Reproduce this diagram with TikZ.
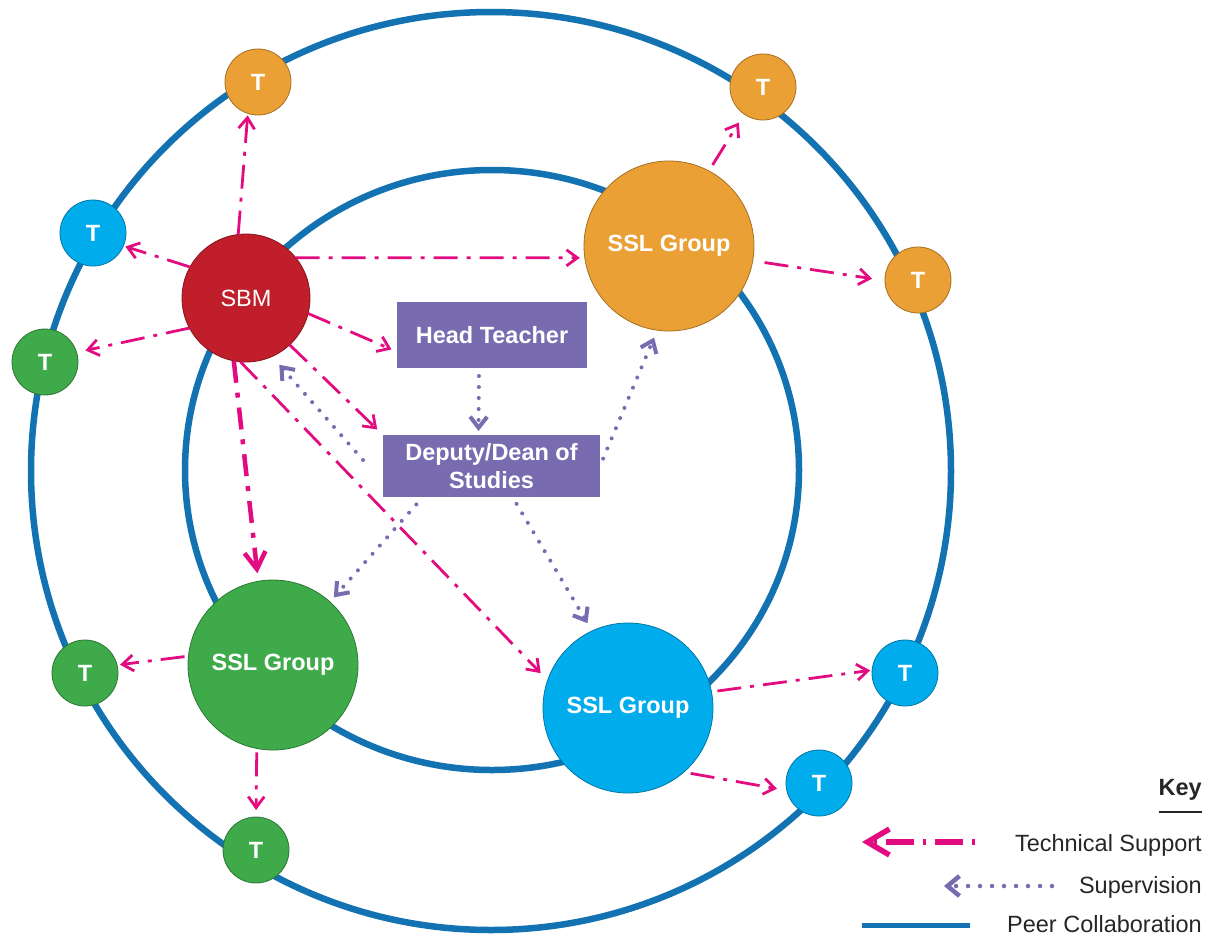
\documentclass[tikz,border=0pt]{standalone}
\usepackage{fontspec}
\setmainfont{Liberation Sans}
\usetikzlibrary{arrows.meta,backgrounds}
\definecolor{ringblue}{RGB}{18,114,178}
\definecolor{sbmred}{RGB}{192,30,42}
\definecolor{orng}{RGB}{234,160,52}
\definecolor{grn}{RGB}{62,170,74}
\definecolor{cyn}{RGB}{0,172,236}
\definecolor{purp}{RGB}{120,107,176}
\definecolor{mag}{RGB}{226,12,128}
\newcommand{\fsz}{\fontsize{23.5}{28.5}\selectfont}
\begin{document}
\begin{tikzpicture}[x=1pt,y=-1pt,
  circ/.style={circle,inner sep=0pt,outer sep=0pt,text=white,font=\fsz\bfseries,line width=0.8pt},
  tnode/.style={circ,minimum size=66pt,draw=#1!70!black,fill=#1},
  sslnode/.style={circ,minimum size=170pt,draw=#1!70!black,fill=#1},
  boxnode/.style={rectangle,fill=purp,text=white,font=\fsz\bfseries,inner sep=0pt,outer sep=0pt,align=center},
  ring/.style={draw=ringblue,line width=6.5pt},
  tech/.style={draw=mag,line width=2.8pt,dash pattern=on 24pt off 9pt on 4pt off 9pt,
     -{Straight Barb[length=11pt,width=16pt]}},
  techthick/.style={draw=mag,line width=4.5pt,dash pattern=on 22pt off 10pt on 5pt off 10pt,
     -{Straight Barb[length=17pt,width=21pt]}},
  sup/.style={draw=purp,line width=4pt,line cap=round,dash pattern=on 0pt off 11pt,
     -{Straight Barb[length=11pt,width=17pt]}},
  legtext/.style={font=\fsz,anchor=base east,inner sep=0pt,text=black!85}
]
\useasboundingbox (0,0) rectangle (1210,938);

% main nodes
\node[circ,font=\fsz,minimum size=128pt,draw=sbmred!70!black,fill=sbmred] (sbm) at (246,298) {SBM};
\node[boxnode,minimum width=190pt,minimum height=66pt] (ht) at (492,335) {Head Teacher};
\node[boxnode,minimum width=217pt,minimum height=62pt] (dep) at (491.5,466) {Deputy/Dean of\\Studies};
\node[sslnode=orng] (sslo) at (669,246) {SSL Group};
\node[sslnode=grn] (sslg) at (273,665) {SSL Group};
\node[sslnode=cyn] (sslb) at (628,708) {SSL Group};

% teachers
\node[tnode=orng] (tot) at (258,82) {T};
\node[tnode=orng] (totr) at (763,87) {T};
\node[tnode=orng] (tor) at (918,280) {T};
\node[tnode=cyn] (tbl) at (93,233) {T};
\node[tnode=grn] (tgl) at (45,362) {T};
\node[tnode=grn] (tgl2) at (85,673) {T};
\node[tnode=grn] (tgb) at (256,850) {T};
\node[tnode=cyn] (tbr) at (905,673) {T};
\node[tnode=cyn] (tbbr) at (819,783) {T};

% rings
\begin{scope}[on background layer]
  \draw[ring] (491,471) ellipse [x radius=460pt, y radius=459pt];
  \draw[ring] (492,470) ellipse [x radius=307pt, y radius=300pt];
\end{scope}

% technical support
\draw[tech,shorten >=2pt] (sbm.97) -- (tot.252);
\draw[tech,shorten >=2pt] (sbm.151) -- (tbl.337);
\draw[tech,shorten >=9pt] (sbm.208) -- (tgl.17);
\draw[tech,shorten >=5pt] (sbm.39) -- (sslo.188);
\draw[tech,shorten >=6pt] (sbm.346) -- (ht.190);
\draw[tech,shorten >=8pt] (sbm.313) -- (dep.north west);
\draw[techthick,shorten >=8pt] (sbm.259) -- (sslg.100);
\draw[tech,shorten >=10pt] (sbm.265) -- (sslb.161);
\draw[tech,shorten <=7pt,shorten >=10pt] (sslo.62) -- (totr.235);
\draw[tech,shorten <=12pt,shorten >=13pt] (sslo.350) -- (tor.181);
\draw[tech,shorten <=4pt,shorten >=3pt] (sslg.174) -- (tgl2.14);
\draw[tech,shorten <=4pt,shorten >=7pt] (sslg.259) -- (tgb.90);
\draw[tech,shorten <=6pt,shorten >=2pt] (sslb.11) -- (tbr.175);
\draw[tech,shorten <=7pt,shorten >=10pt] (sslb.311) -- (tbbr.193);

% supervision
\draw[sup,shorten <=8pt,shorten >=4pt] ([xshift=-13pt]ht.south) -- ([xshift=-13pt]dep.north);
\draw[sup,shorten >=11pt] ([xshift=-20pt,yshift=6pt]dep.west) -- (sbm.294);
\draw[sup,shorten <=8pt,shorten >=8pt] (dep.east) -- (sslo.262);
\draw[sup,shorten <=10pt,shorten >=6pt] ([xshift=40pt]dep.south west) -- (sslg.48);
\draw[sup,shorten <=8pt,shorten >=9pt] ([xshift=21pt]dep.south) -- (sslb.115);

% key
\node[legtext,font=\fsz\bfseries] (key) at (1202,795) {Key};
\draw[line width=2.5pt,black!85] ([yshift=-17pt]key.base west) -- ([yshift=-17pt]key.base east);
\node[legtext] (ltech) at (1202,851) {Technical Support};
\node[legtext] (lsup) at (1202,893) {Supervision};
\node[legtext] (lpeer) at (1202,932) {Peer Collaboration};
\coordinate (t1) at (975,842);
\coordinate (t2) at (862,842);
\draw[draw=mag,line width=5.5pt,dash pattern=on 3pt off 9pt on 28pt off 9pt,
      -{Straight Barb[length=22pt,width=26pt]}] (t1) -- (t2);
\coordinate (s1) at (1052,886);
\coordinate (s2) at (944,886);
\draw[sup,line width=4.5pt,dash pattern=on 0pt off 12pt,-{Straight Barb[length=12pt,width=20pt]}] (s1) -- (s2);
\coordinate (p1) at (862,925);
\coordinate (p2) at (970,925);
\draw[ringblue,line width=5pt] (p1) -- (p2);
\end{tikzpicture}
\end{document}
